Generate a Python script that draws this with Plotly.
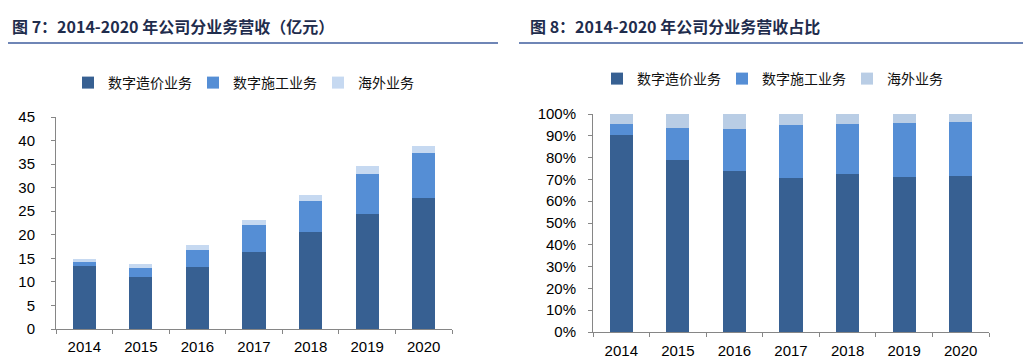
import plotly.graph_objects as go

years = ["2014", "2015", "2016", "2017", "2018", "2019", "2020"]
series_names = ["数字造价业务", "数字施工业务", "海外业务"]

# Revenue (亿元)
cost_rev = [13.3, 11.0, 13.2, 16.3, 20.5, 24.5, 27.8]
constr_rev = [0.9, 1.9, 3.5, 5.7, 6.6, 8.5, 9.5]
overseas_rev = [0.6, 1.0, 1.2, 1.2, 1.3, 1.5, 1.5]

# Share (%)
cost_share = [90.2, 78.9, 74.0, 70.8, 72.5, 71.1, 71.7]
constr_share = [5.4, 14.8, 19.1, 24.0, 23.1, 24.9, 24.5]
overseas_share = [4.4, 6.3, 6.9, 5.2, 4.4, 4.0, 3.8]

left_colors = ["#376092", "#558ED5", "#C6D9F1"]
right_colors = ["#376092", "#558ED5", "#B9CDE5"]

fig = go.Figure()

for name, vals, col in zip(series_names, [cost_rev, constr_rev, overseas_rev], left_colors):
    fig.add_trace(go.Bar(x=years, y=vals, name=name, marker_color=col,
                         marker_line_width=0, xaxis="x", yaxis="y", legend="legend"))

for name, vals, col in zip(series_names, [cost_share, constr_share, overseas_share], right_colors):
    fig.add_trace(go.Bar(x=years, y=[v / 100 for v in vals], name=name, marker_color=col,
                         marker_line_width=0, xaxis="x2", yaxis="y2", legend="legend2"))

W, H = 1023, 363
def px_x(p): return p / W
def px_y(p): return 1 - p / H

tickfont = dict(family="Liberation Sans, Arial, sans-serif", size=15, color="#000000")
axis_common = dict(showgrid=False, zeroline=False, showline=True, linecolor="#868686",
                   linewidth=1, ticks="outside", ticklen=4, tickcolor="#868686",
                   tickfont=tickfont, fixedrange=True)

legend_common = dict(orientation="h", font=dict(family="Noto Sans CJK SC", size=14, color="#111111"),
                     bgcolor="rgba(0,0,0,0)", itemwidth=30, entrywidth=80, entrywidthmode="pixels",
                     xanchor="left", yanchor="middle", traceorder="normal", itemclick=False)

fig.update_layout(
    width=W, height=H,
    margin=dict(l=0, r=0, t=0, b=0, autoexpand=False),
    paper_bgcolor="white", plot_bgcolor="white",
    barmode="stack", bargap=0.59,
    xaxis=dict(domain=[px_x(56), px_x(452)], anchor="y", tickson="boundaries",
               ticklabelstandoff=4, **axis_common),
    yaxis=dict(domain=[px_y(329), px_y(117)], anchor="x", range=[0, 45], dtick=5,
               ticklabelstandoff=13, **axis_common),
    xaxis2=dict(domain=[px_x(593), px_x(989)], anchor="y2", tickson="boundaries",
                ticklabelstandoff=5, **axis_common),
    yaxis2=dict(domain=[px_y(332), px_y(114)], anchor="x2", range=[0, 1], dtick=0.1,
                tickformat=".0%", ticklabelstandoff=9, **axis_common),
    legend=dict(x=px_x(68), y=px_y(83), **legend_common),
    legend2=dict(x=px_x(597), y=px_y(79), **legend_common),
    showlegend=True,
)

title_font = dict(family="Noto Sans CJK SC", size=16, color="#1F2D4D")
fig.add_annotation(text="<b>图 7：2014-2020 年公司分业务营收（亿元）</b>", x=px_x(10), y=px_y(26),
                   xref="paper", yref="paper", xanchor="left", yanchor="middle",
                   showarrow=False, font=title_font)
fig.add_annotation(text="<b>图 8：2014-2020 年公司分业务营收占比</b>", x=px_x(528), y=px_y(26),
                   xref="paper", yref="paper", xanchor="left", yanchor="middle",
                   showarrow=False, font=title_font)

fig.add_shape(type="line", xref="paper", yref="paper", x0=px_x(8), x1=px_x(498),
              y0=px_y(43), y1=px_y(43), line=dict(color="#3F5E9E", width=1.5))
fig.add_shape(type="line", xref="paper", yref="paper", x0=px_x(519), x1=px_x(1023),
              y0=px_y(43), y1=px_y(43), line=dict(color="#3F5E9E", width=1.5))

fig.write_html("out.html", config={"displayModeBar": False},
               post_script="document.body.style.margin='0';document.body.style.overflow='hidden';")
